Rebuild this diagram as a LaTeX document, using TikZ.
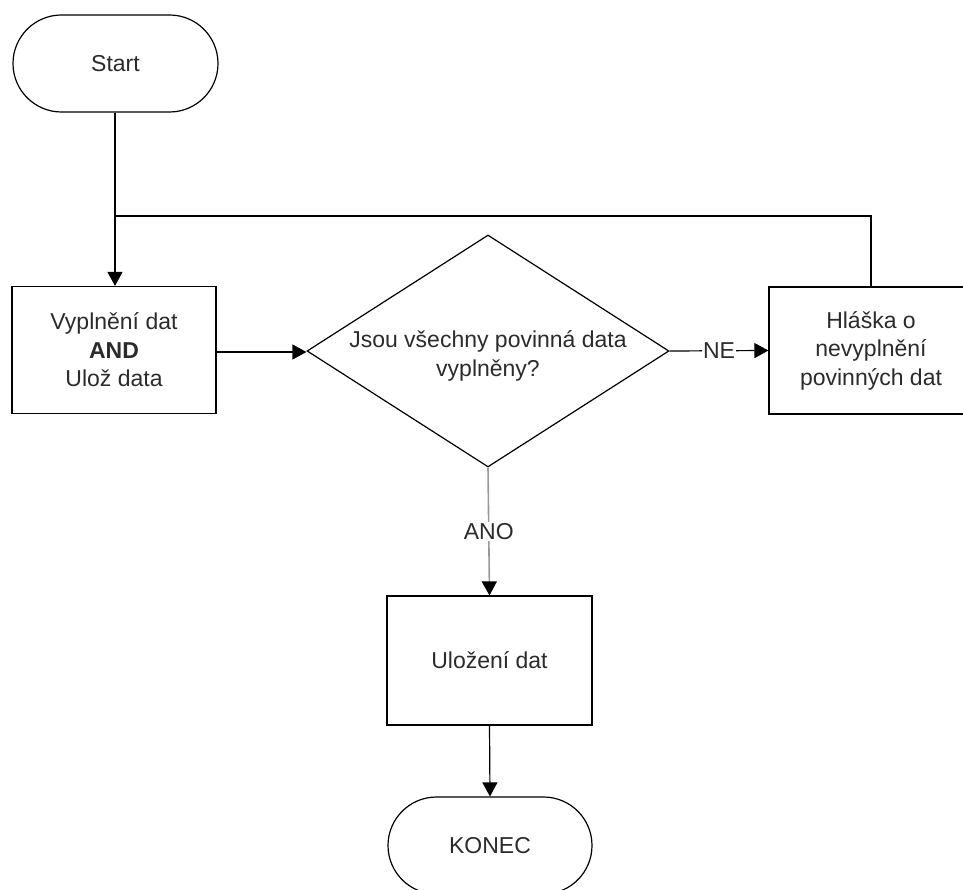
\documentclass[tikz,border=0pt]{standalone}
\usepackage{fontspec}
\setmainfont{Liberation Sans}
\usetikzlibrary{shapes.misc,shapes.geometric,arrows.meta}
\definecolor{txt}{HTML}{2B2B2B}
\definecolor{ano}{HTML}{9A9A9A}
\begin{document}
\begin{tikzpicture}[x=1pt,y=-1pt,
  every node/.style={font=\fontsize{23}{28.5}\selectfont, text=txt, align=center},
  term/.style={draw, line width=1.2pt, rounded rectangle, minimum width=205pt, minimum height=97pt, inner sep=0pt},
  procbox/.style={draw, line width=1.2pt, rectangle, minimum width=204pt, minimum height=127pt, inner sep=0pt},
  decbox/.style={draw, line width=1.2pt, diamond, minimum width=362pt, minimum height=232pt, aspect=1.56, inner sep=0pt},
  conn/.style={line width=1.2pt, -{Triangle[length=14pt,width=15pt]}},
  plain/.style={line width=1.2pt},
  lbl/.style={fill=white, inner sep=1pt}
]
\useasboundingbox (0,0) rectangle (963,890);
\fill[white] (0,0) rectangle (963,890);

\node[term] (start) at (115.5,63.5) {Start};
\node[procbox] (box1) at (114,350) {Vyplnění dat\\\textbf{AND}\\Ulož data};
\node[decbox] (dec) at (488,351) {};
\node at (488,356) {Jsou všechny povinná data\\vyplněny?};
\node[procbox] (box3) at (871,350.5) {Hláška o\\nevyplnění\\povinných dat};
\node[procbox, minimum width=205pt, minimum height=129pt] (save) at (489.5,660.5) {Uložení dat};
\node[term, minimum width=204pt] (end) at (490,845.5) {KONEC};

\coordinate (join) at (115,216);

\draw[conn] (start.south -| join) -- (box1.north -| join);
\draw[plain] (box3.north) |- (join);
\draw[conn] (box1.east |- 0,352) -- (dec.west |- 0,352);
\draw[conn] (dec.east) -- node[lbl] (ne) {NE} (box3.west);
\draw[line width=1.6pt, ano, -{Triangle[length=14pt,width=15pt,color=black]}] (dec.south) -- node[lbl] (anol) {ANO} (save.north);
\draw[conn] (save.south) -- (end.north);
\end{tikzpicture}
\end{document}
